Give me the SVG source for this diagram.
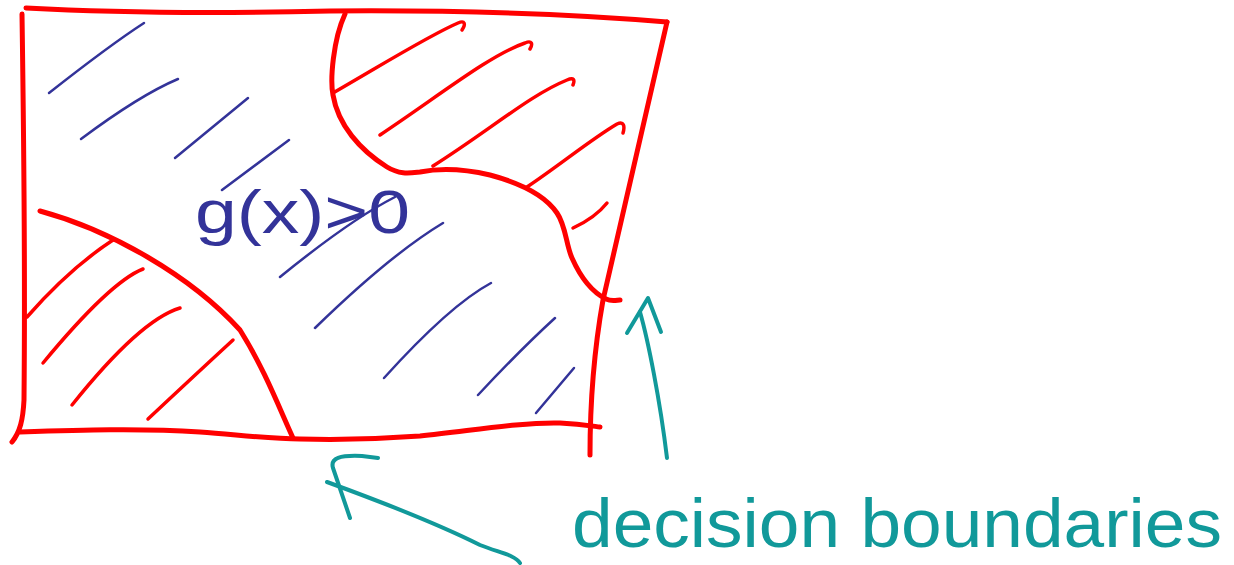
<svg xmlns="http://www.w3.org/2000/svg" width="1234" height="565" viewBox="0 0 1234 565">
  <style>
    .frame { fill: none; stroke: #ff0000; stroke-width: 5; stroke-linecap: round; stroke-linejoin: round; }
    .hatch-red { fill: none; stroke: #ff0000; stroke-width: 3.5; stroke-linecap: round; }
    .hatch-blue { fill: none; stroke: #333399; stroke-width: 2.5; stroke-linecap: round; }
    .pen-teal { fill: none; stroke: #11999a; stroke-width: 4; stroke-linecap: round; stroke-linejoin: round; }
    .label-blue { font-family: "Liberation Sans", "DejaVu Sans", sans-serif; fill: #333399; }
    .label-teal { font-family: "Liberation Sans", "DejaVu Sans", sans-serif; fill: #11999a; }
  </style>
  <rect width="1234" height="565" fill="#ffffff"/>

  <!-- positive region hatching -->
  <g id="region-positive">
    <path class="hatch-blue" d="M49,93 Q110,45 144,23"/>
    <path class="hatch-blue" d="M81,139 Q140,95 178,79"/>
    <path class="hatch-blue" d="M175,158 L248,98"/>
    <path class="hatch-blue" d="M222,190 L289,140"/>
    <path class="hatch-blue" d="M280,277 Q350,220 395,197"/>
    <path class="hatch-blue" d="M315,328 Q390,255 443,223"/>
    <path class="hatch-blue" d="M384,378 Q450,305 491,283"/>
    <path class="hatch-blue" d="M478,395 Q520,350 555,318"/>
    <path class="hatch-blue" d="M536,413 L574,368"/>
    <text class="label-blue" x="195" y="233" font-size="62" textLength="215" lengthAdjust="spacingAndGlyphs">g(x)&gt;0</text>
  </g>

  <!-- lower-left region -->
  <g id="region-lower-left">
    <path class="frame" d="M40,211 C110,230 190,275 240,330 C265,370 280,410 293,438"/>
    <path class="hatch-red" d="M27,317 Q70,268 113,240"/>
    <path class="hatch-red" d="M43,363 Q110,282 143,269"/>
    <path class="hatch-red" d="M72,405 Q140,320 180,308"/>
    <path class="hatch-red" d="M148,419 Q195,375 233,340"/>
  </g>

  <!-- upper-right region -->
  <g id="region-upper-right">
    <path class="frame" d="M345,14 C333,40 330,80 333,95 C338,125 360,150 387,167 C400,175 410,173 420,172 C440,168 460,168 490,175 C520,183 545,195 557,213 C566,226 566,245 572,258 C580,276 592,292 606,299 C612,302 617,300 620,300"/>
    <path class="hatch-red" d="M333,93 C390,60 430,35 458,23 C465,20 466,24 462,30"/>
    <path class="hatch-red" d="M380,135 C440,95 490,55 525,43 C532,40 533,44 530,49"/>
    <path class="hatch-red" d="M433,166 C490,130 530,95 567,80 C574,77 575,80 573,85"/>
    <path class="hatch-red" d="M527,187 C560,165 590,140 617,124 C624,121 625,126 623,133"/>
    <path class="hatch-red" d="M573,228 Q595,218 607,203"/>
  </g>

  <!-- outer frame -->
  <g id="frame">
    <path class="frame" d="M26,8 C100,12 200,14 330,11 C450,10 560,13 667,22"/>
    <path class="frame" d="M667,22 L603,300 C595,345 590,400 590,455"/>
    <path class="frame" d="M20,432 C80,430 140,428 200,432 C240,435 270,439 300,439 C340,440 380,439 420,436 C470,431 520,422 560,423 C580,424 592,426 600,427"/>
    <path class="frame" d="M22,14 C24,150 25,300 24,400 C23,420 20,432 12,442"/>
  </g>

  <!-- label -->
  <g id="label-boundaries">
    <text class="label-teal" x="572" y="547" font-size="68" textLength="650" lengthAdjust="spacingAndGlyphs">decision boundaries</text>
  </g>

  <!-- pointers from the label to the boundaries -->
  <g id="connectors">
    <path class="pen-teal" d="M327,482 C390,505 440,525 480,545 C500,553 515,555 520,563"/>
    <path class="pen-teal" d="M350,518 L333,468 C330,458 340,455 362,456 L378,458"/>
    <path class="pen-teal" d="M667,458 C660,400 648,340 640,312"/>
    <path class="pen-teal" d="M627,333 L648,298 L661,332"/>
  </g>
</svg>
